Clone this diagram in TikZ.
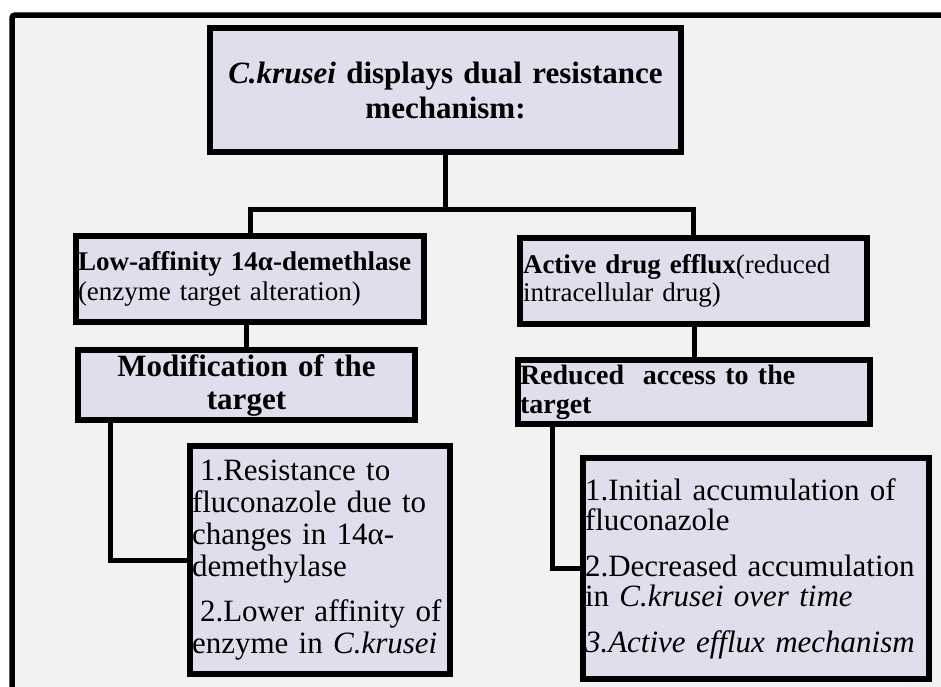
\documentclass[tikz,border=0pt]{standalone}
\usepackage{fontspec}
\setmainfont{Liberation Serif}
\definecolor{frameBg}{HTML}{F2F2F2}
\definecolor{boxFill}{HTML}{E2DDEC}
\tikzset{
  box/.style={draw=black, line width=6pt, fill=boxFill, rectangle, inner sep=0pt},
  conn/.style={draw=black, line width=5pt},
}
\begin{document}
\begin{tikzpicture}[x=1pt,y=-1pt]
\useasboundingbox (0,0) rectangle (941,686);
\fill[white] (0,0) rectangle (941,686);
\begin{scope}
\clip (0,0) rectangle (941,686);
\draw[line width=5.5pt, fill=frameBg, rounded corners=3pt] (12,15) rectangle (990,730);
\end{scope}

\node[box, minimum width=471pt, minimum height=124pt, text width=466pt, align=center,
  font=\fontsize{31pt}{35pt}\selectfont\bfseries] (top) at (445.5,90)
  {\textit{C.krusei} displays dual resistance\\mechanism:};

\node[box, minimum width=348pt, minimum height=86pt, text width=344pt, align=left,
  font=\fontsize{27pt}{30pt}\selectfont] (l1) at (250,279)
  {\textbf{Low-affinity 14α-demethlase}\\(enzyme target alteration)};

\node[box, minimum width=347pt, minimum height=86pt, text width=341pt, align=left,
  font=\fontsize{27pt}{28pt}\selectfont] (r1) at (693.5,281)
  {\textbf{Active drug efflux}(reduced\\intracellular drug)};

\node[box, minimum width=337pt, minimum height=70pt, text width=330pt, align=center,
  font=\fontsize{31pt}{33pt}\selectfont\bfseries] (l2) at (246.5,385)
  {Modification of the\\target};

\node[box, minimum width=352pt, minimum height=64pt, text width=348pt, align=left,
  font=\fontsize{28pt}{29pt}\selectfont\bfseries] (r2) at (694,392)
  {Reduced\ \ access to the\\target};

\node[box, minimum width=260pt, minimum height=228pt, text width=256pt, align=left,
  font=\fontsize{31pt}{32pt}\selectfont] (l3) at (320,560)
  {\hspace*{8pt}1.Resistance to\\fluconazole due to\\changes in 14α-\\demethylase\\[13pt]\hspace*{8pt}2.Lower affinity of\\enzyme in \textit{C.krusei}};

\node[box, minimum width=346pt, minimum height=221pt, text width=342pt, align=left,
  font=\fontsize{31pt}{30.5pt}\selectfont] (r3) at (756,568.5)
  {1.Initial accumulation of\\fluconazole\\[15pt]2.Decreased accumulation\\in \textit{C.krusei over time}\\[15pt]\textit{3.Active efflux mechanism}};

\coordinate (split) at (445.5,209.5);
\coordinate (lb) at (110.5,0);
\coordinate (rb) at (552.5,0);
\draw[conn] (top.south) -- (split);
\draw[conn] (l1.north) |- (split) -| (r1.north);
\draw[conn] (l1.south -| l2.north) -- (l2.north);
\draw[conn] (r2.north |- r1.south) -- (r2.north);
\draw[conn] (l2.south -| lb) |- (l3.west);
\draw[conn] (r2.south -| rb) |- (r3.west);
\end{tikzpicture}
\end{document}
